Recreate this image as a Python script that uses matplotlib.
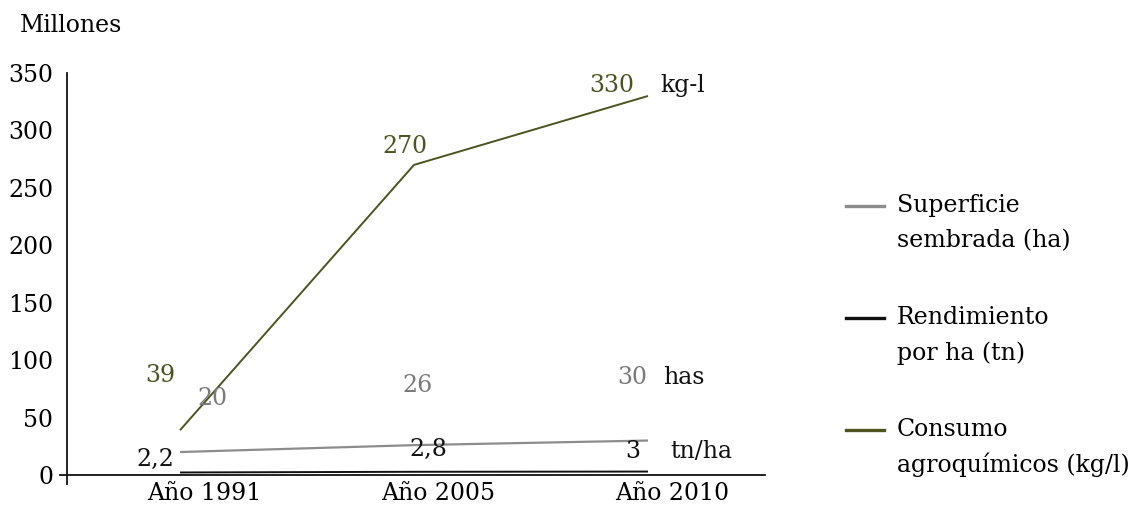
import matplotlib
matplotlib.use("Agg")
import matplotlib.pyplot as plt
from matplotlib.lines import Line2D
from matplotlib.transforms import ScaledTranslation

plt.rcParams['font.family'] = ['DejaVu Serif']

# Data
years = ["Año 1991", "Año 2005", "Año 2010"]
superficie = [20, 26, 30]          # millones de ha
rendimiento = [2.2, 2.8, 3]        # tn/ha
agroquimicos = [39, 270, 330]      # millones kg-l

series_names = ["Superficie\nsembrada (ha)", "Rendimiento\npor ha (tn)", "Consumo\nagroquímicos (kg/l)"]
c_gray = "#8c8c8c"
c_black = "#111111"
c_green = "#4d5321"
colors = [c_gray, c_black, c_green]

FS = 17

fig = plt.figure(figsize=(11.48, 5.05), dpi=100)
ax = fig.add_axes([67/1148, 30/505, (765-67)/1148, (475-73)/505])

x = list(range(len(years)))
ax.plot(x, superficie, color=c_gray, lw=1.6, solid_capstyle='butt')
ax.plot(x, rendimiento, color=c_black, lw=1.4, solid_capstyle='butt')
ax.plot(x, agroquimicos, color=c_green, lw=1.4, solid_capstyle='butt')

ax.set_xlim(-0.483, 2.5)
ax.set_ylim(0, 350)

for s in ['top', 'right']:
    ax.spines[s].set_visible(False)
for s in ['left', 'bottom']:
    ax.spines[s].set_linewidth(1.3)
    ax.spines[s].set_color('#111111')
ax.spines['left'].set_bounds(-8, 350)
ax.spines['bottom'].set_bounds(-0.515, 2.5)

ax.set_yticks(range(0, 351, 50))
ax.tick_params(axis='y', length=0, pad=10, labelsize=FS)
ax.set_xticks(x)
ax.set_xticklabels(years, fontsize=FS)
ax.tick_params(axis='x', length=0, pad=5)
for lbl in ax.get_xticklabels():
    lbl.set_transform(lbl.get_transform() + ScaledTranslation(24/100, 0, fig.dpi_scale_trans))

fig.text(20/1148, 1 - 25/505, "Millones", fontsize=FS, va='center', ha='left')

def lab(text, xi, yv, dx, dy, color, ha='center'):
    ax.annotate(text, (xi, yv), xytext=(dx, dy), textcoords='offset pixels',
                ha=ha, va='center', fontsize=FS, color=color)

# value labels
lab(str(agroquimicos[0]), 0, agroquimicos[0], -20, 55, c_green)
lab(str(agroquimicos[1]), 1, agroquimicos[1], -9, 18, c_green)
lab(str(agroquimicos[2]), 2, agroquimicos[2], -36, 10, c_green)
lab(str(superficie[0]), 0, superficie[0], 32, 54, "#7a7a7a")
lab(str(superficie[1]), 1, superficie[1], 4, 60, "#7a7a7a")
lab(str(superficie[2]), 2, superficie[2], -16, 63, "#7a7a7a")
fmt = lambda v: str(v).replace('.', ',')
lab(fmt(rendimiento[0]), 0, rendimiento[0], -25, 13, c_black)
lab(fmt(rendimiento[1]), 1, rendimiento[1], 14, 22, c_black)
lab(fmt(rendimiento[2]), 2, rendimiento[2], -15, 20, c_black)

# unit labels
lab("kg-l", 2, agroquimicos[2], 12, 10, c_black, ha='left')
lab("has", 2, superficie[2], 15, 63, c_black, ha='left')
lab("tn/ha", 2, rendimiento[2], 22, 20, c_black, ha='left')

# legend
leg_y = [206, 318, 430]
for name, col, yy in zip(series_names, colors, leg_y):
    yf = 1 - yy / 505
    fig.add_artist(Line2D([846/1148, 884/1148], [yf, yf], color=col, lw=2.4,
                          transform=fig.transFigure))
    first, second = name.split("\n")
    fig.text(897/1148, yf, first, fontsize=FS, va='center', ha='left')
    fig.text(897/1148, 1 - (yy + 35) / 505, second, fontsize=FS, va='center', ha='left')

fig.savefig("out.png", dpi=100)
